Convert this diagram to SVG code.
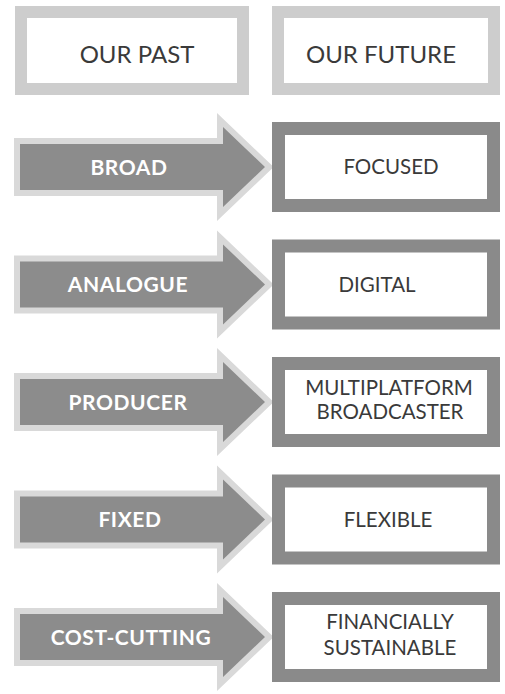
<svg xmlns="http://www.w3.org/2000/svg" width="505" height="694" viewBox="0 0 505 694">
<style>
.hdr{fill:#fff;stroke:#cdcdcd;stroke-width:12}
.box{fill:#fff;stroke:#8a8a8a;stroke-width:13}
.arr{fill:#8c8c8c;stroke:#d9d9d9;stroke-width:12;stroke-linejoin:miter;paint-order:stroke}
.ht{font-family:Lato,"Liberation Sans",sans-serif;font-size:24px;fill:#3a3a3a;text-anchor:middle}
.bt{font-family:Lato,"Liberation Sans",sans-serif;font-size:20.5px;fill:#3a3a3a;text-anchor:middle}
.at{font-family:Lato,"Liberation Sans",sans-serif;font-size:21px;font-weight:bold;fill:#fff;text-anchor:middle;letter-spacing:0.6px}
</style>
<rect width="505" height="694" fill="#fff"/>
<g id="header-past"><rect class="hdr" x="21" y="12" width="222" height="77"/><text class="ht" x="137" y="63">OUR PAST</text></g>
<g id="header-future"><rect class="hdr" x="278" y="12" width="216" height="77"/><text class="ht" x="381" y="63">OUR FUTURE</text></g>
<g id="connectors">
<path class="arr" d="M20 144H223V127L265 167L223 207V190H20Z"/>
<path class="arr" d="M20 261.5H223V244.5L265 284.5L223 324.5V307.5H20Z"/>
<path class="arr" d="M20 379H223V362L265 402L223 442V425H20Z"/>
<path class="arr" d="M20 496.5H223V479.5L265 519.5L223 559.5V542.5H20Z"/>
<path class="arr" d="M20 614H223V597L265 637L223 677V660H20Z"/>
</g>
<g id="past-broad"><text class="at" x="129" y="174.5">BROAD</text></g>
<g id="past-analogue"><text class="at" x="128" y="292">ANALOGUE</text></g>
<g id="past-producer"><text class="at" x="128" y="409.5">PRODUCER</text></g>
<g id="past-fixed"><text class="at" x="130" y="527">FIXED</text></g>
<g id="past-costcutting"><text class="at" x="131" y="644.5">COST-CUTTING</text></g>
<g id="future-focused"><rect class="box" x="278.5" y="128.5" width="215" height="77"/><text class="bt" x="391" y="174">FOCUSED</text></g>
<g id="future-digital"><rect class="box" x="278.5" y="246" width="215" height="77"/><text class="bt" x="377" y="291.5">DIGITAL</text></g>
<g id="future-multiplatform"><rect class="box" x="278.5" y="363.5" width="215" height="77"/><text class="bt" x="389" y="395">MULTIPLATFORM</text><text class="bt" x="390" y="419">BROADCASTER</text></g>
<g id="future-flexible"><rect class="box" x="278.5" y="481" width="215" height="77"/><text class="bt" x="388" y="526.5">FLEXIBLE</text></g>
<g id="future-financially"><rect class="box" x="278.5" y="598.5" width="215" height="77"/><text class="bt" x="390" y="629">FINANCIALLY</text><text class="bt" x="390" y="655">SUSTAINABLE</text></g>
</svg>
